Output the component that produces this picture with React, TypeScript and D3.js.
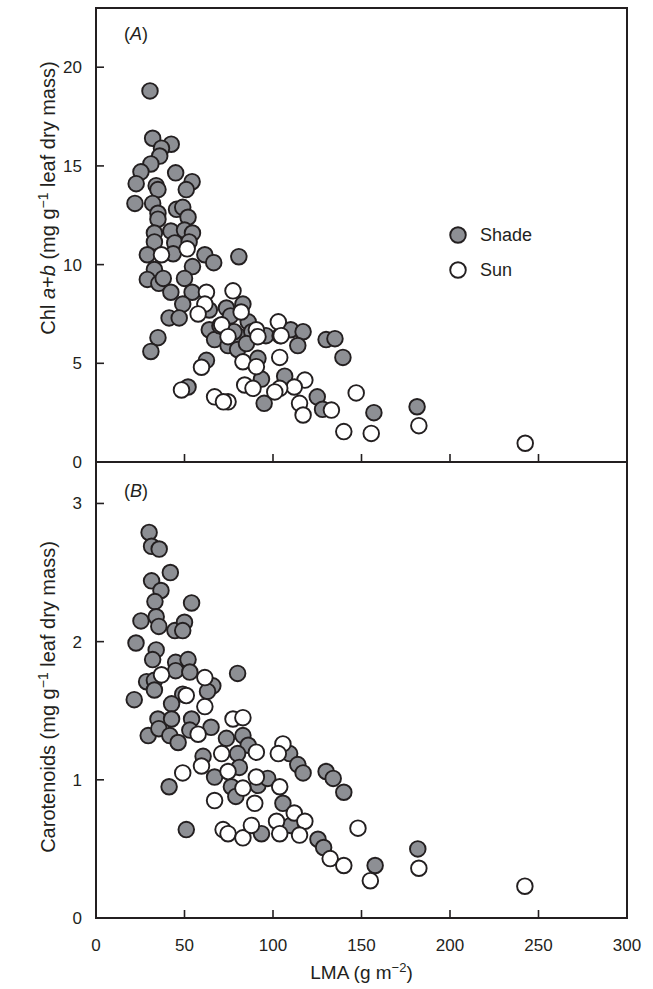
import * as d3 from 'd3';
import React, { useEffect, useRef } from 'react';

// LMA (g m-2), pigment value
const shadeChl: [number, number][] = [
  [30.5, 18.8], [32, 16.4], [42.5, 16.1], [37, 15.9], [36, 15.5], [31, 15.1], [25.4, 14.7],
  [22.7, 14.1], [45, 14.65], [34, 14.0], [35, 13.8], [54.3, 14.2], [51, 13.8], [22, 13.1],
  [32, 13.1], [35, 12.6], [35, 12.3], [45.5, 12.8], [49, 12.9], [52, 12.4], [33, 11.6],
  [42.3, 11.7], [50, 11.75], [54.5, 11.6], [33, 11.15], [44.5, 11.1], [52.6, 11.15], [29, 10.5],
  [43.6, 10.55], [61.5, 10.5], [66.5, 10.1], [80.7, 10.4], [33, 9.75], [29, 9.25], [35.5, 9.05],
  [38, 9.3], [54.5, 9.9], [50, 9.3], [42.3, 8.6], [54.3, 8.6], [49, 8.0], [41.3, 7.3], [47, 7.3],
  [64, 7.7], [73.7, 7.8], [83, 8.0], [86, 7.1], [64, 6.7], [67, 6.2], [74.6, 5.9], [81, 6.35],
  [80, 5.7], [96, 6.4], [110, 6.7], [117, 6.6], [114, 5.9], [130, 6.2], [135, 6.25], [139.5, 5.3],
  [62.4, 5.15], [91.5, 5.25], [35, 6.3], [31, 5.6], [93.5, 4.2], [106.6, 4.35], [52, 3.8],
  [95, 2.97], [125, 3.3], [128, 2.67], [157, 2.5], [181.4, 2.8], [76, 7.4], [70, 6.9], [78, 6.6],
  [88, 6.6], [104, 6.4], [85, 6.0],
];
const sunChl: [number, number][] = [
  [37, 10.5], [51.5, 10.8], [62.4, 8.6], [77.4, 8.67], [61.5, 8.0], [57.7, 7.5], [82, 7.6],
  [71, 6.95], [74.6, 6.35], [90.6, 6.7], [91.5, 6.35], [103, 7.1], [104.6, 6.4], [59.6, 4.8],
  [83, 5.08], [90.6, 4.83], [103.8, 5.3], [118, 4.15], [112, 3.8], [103.8, 3.73], [101, 3.55],
  [84, 3.9], [88.7, 3.73], [48.3, 3.65], [67, 3.3], [74.6, 3.05], [72, 3.05], [115, 2.97],
  [133, 2.63], [117, 2.38], [147, 3.5], [140, 1.54], [155.5, 1.45], [182.4, 1.84], [242.5, 0.95],
];
const shadeCar: [number, number][] = [
  [30, 2.79], [31.4, 2.69], [35.7, 2.67], [42, 2.5], [31.4, 2.44], [36.7, 2.37], [33.3, 2.29],
  [54, 2.28], [25.4, 2.15], [34, 2.18], [35.5, 2.11], [44.6, 2.08], [50, 2.14], [49, 2.08],
  [22.6, 1.99], [34, 1.94], [32, 1.87], [45, 1.85], [52, 1.87], [80, 1.77], [45, 1.79], [53, 1.78],
  [28.6, 1.71], [33, 1.72], [33, 1.65], [66, 1.68], [49, 1.62], [63, 1.64], [21.6, 1.58],
  [42.7, 1.55], [35, 1.44], [42.7, 1.44], [54, 1.44], [29.5, 1.32], [35.5, 1.37], [41.7, 1.32],
  [46.4, 1.27], [53, 1.36], [65, 1.38], [73.7, 1.3], [83, 1.32], [86, 1.25], [60.5, 1.17],
  [67, 1.02], [80, 1.19], [41.3, 0.95], [76.5, 0.95], [79, 0.88], [91.5, 0.96], [97, 1.01],
  [81, 1.09], [105.6, 0.83], [109.4, 1.19], [114, 1.11], [117, 1.05], [130, 1.06], [134, 1.01],
  [140, 0.91], [51, 0.64], [93.5, 0.61], [110, 0.67], [125.4, 0.57], [128.6, 0.51], [157.7, 0.38],
  [181.8, 0.5],
];
const sunCar: [number, number][] = [
  [37, 1.76], [61.5, 1.74], [51, 1.61], [61.5, 1.53], [77.4, 1.44], [83, 1.45], [57.7, 1.33],
  [59.6, 1.1], [71, 1.19], [74.6, 1.06], [90.6, 1.2], [49, 1.05], [83, 0.94], [90.6, 1.02],
  [103.8, 0.95], [105.6, 1.26], [103, 1.19], [67, 0.85], [89.7, 0.83], [71.8, 0.64], [74.6, 0.61],
  [83, 0.58], [87.8, 0.67], [102, 0.7], [103.8, 0.61], [112, 0.76], [118, 0.7], [115, 0.6],
  [148, 0.65], [132.3, 0.43], [140, 0.38], [155, 0.27], [182.4, 0.36], [242.3, 0.23],
];

const xTicks = [0, 50, 100, 150, 200, 250, 300];
const chlTicks = [0, 5, 10, 15, 20];
const carTicks = [0, 1, 2, 3];

const FONT = 'Liberation Sans, Arial, Helvetica, sans-serif';
const INK = '#231f20';
const GREY = '#8d8f94';

export default function App() {
  const svgRef = useRef<SVGSVGElement>(null);

  useEffect(() => {
    if (!svgRef.current) return;
    const svg = d3.select(svgRef.current);
    svg.selectAll('*').remove();

    const x = d3.scaleLinear().domain([0, 300]).range([96, 627]);
    const yA = d3.scaleLinear().domain([0, 23]).range([462, 8]);
    const yB = d3.scaleLinear().domain([0, 3.3]).range([918, 462]);
    const tick = 8;

    const g = svg.append('g').style('font-family', FONT).attr('fill', INK);

    // points
    const drawPoints = (data: [number, number][], y: d3.ScaleLinear<number, number>, fill: string) => {
      g.append('g')
        .selectAll('circle')
        .data(data)
        .join('circle')
        .attr('cx', d => x(d[0]))
        .attr('cy', d => y(d[1]))
        .attr('r', 7.8)
        .attr('fill', fill)
        .attr('stroke', INK)
        .attr('stroke-width', 1.9);
    };
    drawPoints(shadeChl, yA, GREY);
    drawPoints(sunChl, yA, '#fff');
    drawPoints(shadeCar, yB, GREY);
    drawPoints(sunCar, yB, '#fff');

    // frame
    g.append('rect')
      .attr('x', x(0)).attr('y', yA(23))
      .attr('width', x(300) - x(0)).attr('height', yB(0) - yA(23))
      .attr('fill', 'none').attr('stroke', INK).attr('stroke-width', 2);
    g.append('line')
      .attr('x1', x(0)).attr('x2', x(300)).attr('y1', yA(0)).attr('y2', yA(0))
      .attr('stroke', INK).attr('stroke-width', 2);

    // x ticks, inward, on both panels
    [yA(0), yB(0)].forEach(base => {
      g.append('g').selectAll('line')
        .data(xTicks.slice(1, -1))
        .join('line')
        .attr('x1', d => x(d)).attr('x2', d => x(d))
        .attr('y1', base).attr('y2', base - tick)
        .attr('stroke', INK).attr('stroke-width', 1.6);
    });

    // y ticks
    const yAxis = (ticks: number[], y: d3.ScaleLinear<number, number>) => {
      g.append('g').selectAll('line')
        .data(ticks.slice(1))
        .join('line')
        .attr('x1', x(0)).attr('x2', x(0) + tick)
        .attr('y1', d => y(d)).attr('y2', d => y(d))
        .attr('stroke', INK).attr('stroke-width', 1.6);
      g.append('g').selectAll('text')
        .data(ticks)
        .join('text')
        .attr('x', 82)
        .attr('y', d => y(d))
        .attr('dy', '0.35em')
        .attr('text-anchor', 'end')
        .style('font-size', '17px')
        .text(d => String(d));
    };
    yAxis(chlTicks, yA);
    yAxis(carTicks, yB);

    g.append('g').selectAll('text')
      .data(xTicks)
      .join('text')
      .attr('x', d => x(d))
      .attr('y', 951)
      .attr('text-anchor', 'middle')
      .style('font-size', '17px')
      .text(d => String(d));

    // axis titles
    const xt = g.append('text')
      .attr('x', (x(0) + x(300)) / 2)
      .attr('y', 979)
      .attr('text-anchor', 'middle')
      .style('font-size', '19px');
    xt.append('tspan').text('LMA (g m');
    xt.append('tspan').attr('dy', -7).style('font-size', '13px').text('\u22122');
    xt.append('tspan').attr('dy', 7).text(')');

    const ytA = g.append('text')
      .attr('transform', `translate(55,198) rotate(-90)`)
      .attr('text-anchor', 'middle')
      .style('font-size', '20px');
    ytA.append('tspan').text('Chl ');
    ytA.append('tspan').style('font-style', 'italic').text('a');
    ytA.append('tspan').text('+');
    ytA.append('tspan').style('font-style', 'italic').text('b');
    ytA.append('tspan').text(' (mg g');
    ytA.append('tspan').attr('dy', -7).style('font-size', '14px').text('\u22121');
    ytA.append('tspan').attr('dy', 7).text(' leaf dry mass)');

    const ytB = g.append('text')
      .attr('transform', `translate(55,697) rotate(-90)`)
      .attr('text-anchor', 'middle')
      .style('font-size', '20px');
    ytB.append('tspan').text('Carotenoids (mg g');
    ytB.append('tspan').attr('dy', -7).style('font-size', '14px').text('\u22121');
    ytB.append('tspan').attr('dy', 7).text(' leaf dry mass)');

    // panel labels
    [['A', 40], ['B', 497]].forEach(([lab, yy]) => {
      const t = g.append('text').attr('x', 124).attr('y', yy as number).style('font-size', '18px');
      t.append('tspan').text('(');
      t.append('tspan').style('font-style', 'italic').text(lab as string);
      t.append('tspan').text(')');
    });

    // legend
    const legend = [
      { label: 'Shade', fill: GREY, cy: 235 },
      { label: 'Sun', fill: '#fff', cy: 270 },
    ];
    const lg = g.append('g');
    lg.selectAll('circle')
      .data(legend)
      .join('circle')
      .attr('cx', 458).attr('cy', d => d.cy).attr('r', 7.8)
      .attr('fill', d => d.fill).attr('stroke', INK).attr('stroke-width', 1.9);
    lg.selectAll('text')
      .data(legend)
      .join('text')
      .attr('x', 480).attr('y', d => d.cy).attr('dy', '0.36em')
      .style('font-size', '18px')
      .text(d => d.label);
  }, []);

  return (
    <svg
      ref={svgRef}
      width={653}
      height={989}
      style={{ position: 'absolute', left: 0, top: 0, background: '#fff' }}
    />
  );
}
